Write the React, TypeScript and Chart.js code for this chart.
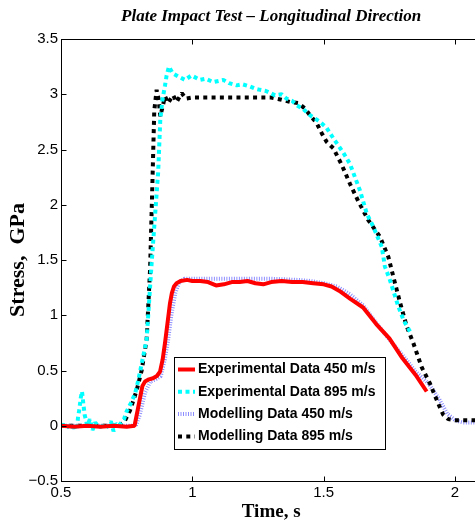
import React, { useEffect, useRef } from "react";
import { Chart, registerables } from "chart.js";

Chart.register(...registerables);

const TITLE = "Plate Impact Test \u2013 Longitudinal Direction";
const X_TITLE = "Time, s";
const Y_TITLE = "Stress,  GPa";

const X_TICKS = [0.5, 1, 1.5, 2];
const Y_TICKS = [-0.5, 0, 0.5, 1, 1.5, 2, 2.5, 3, 3.5];

const LABELS = [
  "Experimental Data 450 m/s",
  "Experimental Data 895 m/s",
  "Modelling Data 450 m/s",
  "Modelling Data 895 m/s",
];

// Experimental 450 m/s
const EXP450_T = [0.5, 0.55, 0.6, 0.65, 0.7, 0.75, 0.78, 0.795, 0.81, 0.82, 0.835, 0.85, 0.865, 0.877, 0.887, 0.896, 0.905, 0.915, 0.922, 0.93, 0.94, 0.955, 0.98, 1.0, 1.03, 1.06, 1.09, 1.12, 1.15, 1.18, 1.21, 1.24, 1.27, 1.3, 1.34, 1.38, 1.42, 1.46, 1.5, 1.53, 1.56, 1.6, 1.65, 1.7, 1.75, 1.8, 1.85, 1.892];
const EXP450_S = [0, -0.01, 0, -0.01, 0, -0.01, 0, 0.18, 0.36, 0.4, 0.42, 0.43, 0.45, 0.49, 0.6, 0.75, 0.92, 1.11, 1.2, 1.26, 1.29, 1.31, 1.32, 1.31, 1.31, 1.3, 1.27, 1.28, 1.3, 1.3, 1.31, 1.29, 1.28, 1.3, 1.31, 1.3, 1.3, 1.29, 1.28, 1.26, 1.22, 1.15, 1.07, 0.92, 0.79, 0.61, 0.46, 0.31];

// Experimental 895 m/s
const EXP895_T = [0.5, 0.51, 0.52, 0.53, 0.54, 0.55, 0.56, 0.565, 0.57, 0.575, 0.58, 0.585, 0.59, 0.595, 0.6, 0.61, 0.62, 0.63, 0.64, 0.65, 0.66, 0.67, 0.68, 0.69, 0.7, 0.71, 0.72, 0.73, 0.74, 0.75, 0.765, 0.782, 0.795, 0.807, 0.826, 0.845, 0.858, 0.87, 0.878, 0.886, 0.896, 0.902, 0.911, 0.925, 0.947, 0.972, 0.997, 1.029, 1.05, 1.08, 1.118, 1.14, 1.169, 1.19, 1.22, 1.24, 1.258, 1.28, 1.315, 1.34, 1.359, 1.38, 1.397, 1.42, 1.448, 1.486, 1.51, 1.537, 1.575, 1.6, 1.638, 1.664, 1.689, 1.721, 1.733, 1.752, 1.784, 1.805, 1.829];
const EXP895_S = [0, 0.01, -0.02, 0, -0.03, 0.02, -0.04, 0.08, 0.15, 0.25, 0.31, 0.2, 0.1, 0.05, 0, 0.06, -0.04, 0.03, 0, -0.01, 0, -0.02, 0, 0.04, -0.05, 0.02, 0, 0.03, 0.06, 0.13, 0.2, 0.29, 0.42, 0.56, 0.78, 1.47, 1.9, 2.3, 2.77, 2.95, 3.08, 3.17, 3.25, 3.19, 3.16, 3.13, 3.17, 3.13, 3.14, 3.11, 3.13, 3.1, 3.08, 3.09, 3.07, 3.05, 3.04, 3.03, 2.99, 3.0, 2.96, 2.94, 2.9, 2.87, 2.81, 2.75, 2.7, 2.6, 2.47, 2.37, 2.13, 1.92, 1.8, 1.62, 1.44, 1.32, 1.08, 0.95, 0.85];

// Modelling 450 m/s
const MOD450_T = [0.5, 0.785, 0.8, 0.82, 0.84, 0.86, 0.88, 0.895, 0.908, 0.92, 0.935, 0.95, 0.97, 1.0, 1.1, 1.2, 1.3, 1.4, 1.45, 1.5, 1.55, 1.6, 1.65, 1.7, 1.75, 1.8, 1.85, 1.9, 1.94, 1.97, 2.0, 2.03, 2.1];
const MOD450_S = [0, 0, 0.1, 0.3, 0.4, 0.42, 0.45, 0.6, 0.78, 1.0, 1.2, 1.3, 1.33, 1.33, 1.33, 1.33, 1.33, 1.32, 1.31, 1.29, 1.26, 1.19, 1.09, 0.93, 0.78, 0.64, 0.49, 0.38, 0.24, 0.11, 0.05, 0.03, 0.03];

// Modelling 895 m/s
const MOD895_T = [0.5, 0.72, 0.74, 0.763, 0.788, 0.807, 0.826, 0.839, 0.848, 0.855, 0.864, 0.872, 0.878, 0.888, 0.896, 0.908, 0.918, 0.927, 0.94, 0.95, 0.96, 0.975, 1.0, 1.1, 1.2, 1.3, 1.34, 1.372, 1.403, 1.429, 1.448, 1.473, 1.492, 1.511, 1.537, 1.569, 1.6, 1.632, 1.67, 1.714, 1.746, 1.765, 1.79, 1.816, 1.841, 1.873, 1.905, 1.936, 1.955, 1.974, 2.0, 2.1];
const MOD895_S = [0, 0, 0.03, 0.14, 0.32, 0.5, 0.78, 1.41, 2.2, 2.85, 3.04, 2.95, 2.8, 2.9, 2.98, 2.92, 2.96, 2.99, 2.93, 2.97, 3.01, 2.96, 2.97, 2.97, 2.97, 2.97, 2.95, 2.93, 2.92, 2.87, 2.81, 2.74, 2.65, 2.57, 2.51, 2.36, 2.19, 2.03, 1.86, 1.71, 1.53, 1.35, 1.12, 0.9, 0.75, 0.53, 0.38, 0.2, 0.1, 0.06, 0.05, 0.05];

const pts = (t: number[], s: number[]) => t.map((x, i) => ({ x, y: s[i] }));

const STYLES = [
  { color: "#ff0000", width: 4, dash: [] as number[] },
  { color: "#00ffff", width: 4, dash: [4, 3.5] },
  { color: "#8c8cff", width: 4, dash: [1, 1.5] },
  { color: "#000000", width: 4, dash: [4, 4.3] },
];

const fmt = (v: number) => (v < 0 ? "\u2212" + Math.abs(v) : String(v));

const framePlugin = {
  id: "frameTicks",
  afterDatasetsDraw(chart: any) {
    const { ctx, chartArea: a, scales } = chart;
    ctx.save();
    ctx.strokeStyle = "#000";
    ctx.lineWidth = 1;
    ctx.setLineDash([]);
    const L = Math.round(a.left) + 0.5;
    const R = Math.round(a.right) + 0.5;
    const T = Math.round(a.top) + 0.5;
    const B = Math.round(a.bottom) + 0.5;
    ctx.strokeRect(L, T, R - L, B - T);
    ctx.beginPath();
    X_TICKS.forEach((v) => {
      const px = Math.round(scales.x.getPixelForValue(v)) + 0.5;
      ctx.moveTo(px, B);
      ctx.lineTo(px, B - 5);
      ctx.moveTo(px, T);
      ctx.lineTo(px, T + 5);
    });
    Y_TICKS.forEach((v) => {
      const py = Math.round(scales.y.getPixelForValue(v)) + 0.5;
      ctx.moveTo(L, py);
      ctx.lineTo(L + 5, py);
      ctx.moveTo(R, py);
      ctx.lineTo(R - 5, py);
    });
    ctx.stroke();
    ctx.restore();
  },
};

const legendPlugin = {
  id: "insideLegend",
  afterDraw(chart: any) {
    const { ctx, chartArea: a } = chart;
    const left = a.left + 113;
    const top = a.top + 318;
    const w = 211;
    const h = 92;
    ctx.save();
    ctx.fillStyle = "#fff";
    ctx.fillRect(left, top, w, h);
    ctx.strokeStyle = "#000";
    ctx.lineWidth = 1;
    ctx.setLineDash([]);
    ctx.strokeRect(Math.round(left) + 0.5, Math.round(top) + 0.5, w, h);
    ctx.font = "bold 14px 'Liberation Sans', Arial, sans-serif";
    ctx.textBaseline = "middle";
    ctx.fillStyle = "#000";
    LABELS.forEach((label, i) => {
      const y = top + 12.5 + i * 22.3;
      const st = STYLES[i];
      ctx.beginPath();
      ctx.strokeStyle = st.color;
      ctx.lineWidth = st.width;
      ctx.setLineDash(st.dash);
      ctx.moveTo(left + 4, y);
      ctx.lineTo(left + 21, y);
      ctx.stroke();
      ctx.setLineDash([]);
      ctx.fillText(label, left + 24, y);
    });
    ctx.restore();
  },
};

export default function App() {
  const ref = useRef<HTMLCanvasElement | null>(null);

  useEffect(() => {
    if (!ref.current) return;
    const series = [
      pts(EXP450_T, EXP450_S),
      pts(EXP895_T, EXP895_S),
      pts(MOD450_T, MOD450_S),
      pts(MOD895_T, MOD895_S),
    ];
    const drawOrder = [0, 1, 3, 2];
    const chart = new Chart(ref.current, {
      type: "line",
      data: {
        datasets: series.map((d, i) => ({
          label: LABELS[i],
          data: d,
          borderColor: STYLES[i].color,
          borderWidth: STYLES[i].width,
          borderDash: STYLES[i].dash,
          borderCapStyle: "butt",
          borderJoinStyle: "bevel",
          pointRadius: 0,
          tension: 0,
          fill: false,
          order: drawOrder[i],
        })),
      },
      options: {
        animation: false,
        responsive: false,
        devicePixelRatio: 1,
        layout: { padding: { left: 0, right: 8.7, top: 0, bottom: 0 } },
        plugins: {
          legend: { display: false },
          tooltip: { enabled: false },
          title: {
            display: true,
            text: TITLE,
            fullSize: false,
            color: "#000",
            font: { family: "'Liberation Serif', 'Times New Roman', serif", size: 17, weight: "bold", style: "italic", lineHeight: 1.2 },
            padding: { top: 6, bottom: 12.6 },
          },
        },
        scales: {
          x: {
            type: "linear",
            min: 0.5,
            max: 2.1,
            grid: { display: false, drawTicks: false },
            border: { display: false },
            afterBuildTicks: (s: any) => {
              s.ticks = X_TICKS.map((v) => ({ value: v }));
            },
            afterFit: (s: any) => {
              s.height = 48;
            },
            ticks: {
              color: "#000",
              padding: 3,
              maxRotation: 0,
              autoSkip: false,
              font: { family: "'Liberation Sans', Arial, sans-serif", size: 15 },
              callback: (v: any) => fmt(Number(v)),
            },
            title: {
              display: true,
              text: X_TITLE,
              color: "#000",
              font: { family: "'Liberation Serif', 'Times New Roman', serif", size: 19, weight: "bold", lineHeight: 1.2 },
              padding: { top: 0, bottom: 6 },
            },
          },
          y: {
            type: "linear",
            min: -0.5,
            max: 3.5,
            grid: { display: false, drawTicks: false },
            border: { display: false },
            afterBuildTicks: (s: any) => {
              s.ticks = Y_TICKS.map((v) => ({ value: v }));
            },
            afterFit: (s: any) => {
              s.width = 61;
            },
            ticks: {
              color: "#000",
              padding: 3,
              autoSkip: false,
              font: { family: "'Liberation Sans', Arial, sans-serif", size: 15 },
              callback: (v: any) => fmt(Number(v)),
            },
            title: {
              display: true,
              text: Y_TITLE,
              color: "#000",
              font: { family: "'Liberation Serif', 'Times New Roman', serif", size: 22, weight: "bold", lineHeight: 1.2 },
              padding: { top: 5, bottom: 0 },
            },
          },
        },
      },
      plugins: [framePlugin, legendPlugin],
    } as any);
    return () => chart.destroy();
  }, []);

  return (
    <div style={{ position: "fixed", left: 0, top: 0, width: 475, height: 529, overflow: "hidden", background: "#fff" }}>
      <canvas ref={ref} width={490} height={529} style={{ width: 490, height: 529, display: "block" }} />
    </div>
  );
}
